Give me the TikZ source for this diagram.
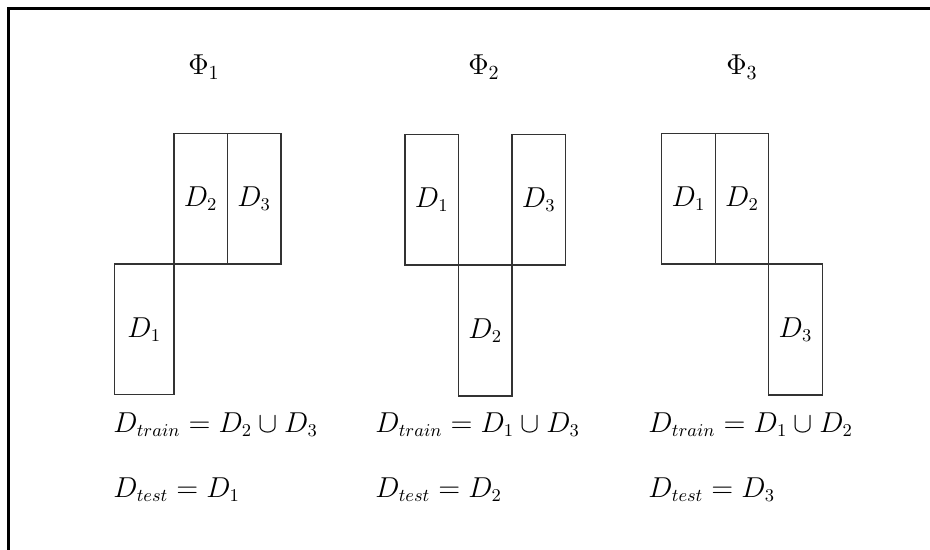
\documentclass[tikz,border=0pt]{standalone}
\usetikzlibrary{positioning}
\begin{document}
\begin{tikzpicture}[x=0.5pt,y=-0.5pt]
\tikzstyle{fold}=[draw=black!80, line width=0.6pt, minimum width=26.75pt, minimum height=65.4pt, inner sep=0pt, outer sep=0pt, font=\fontsize{13.4}{16}\selectfont]
\tikzstyle{eqn}=[anchor=base west, inner sep=0pt, font=\fontsize{13.4}{16}\selectfont]
\tikzstyle{phase}=[anchor=base, inner sep=0pt, font=\fontsize{14.5}{17}\selectfont]

\useasboundingbox (0,0) rectangle (930,550);
\draw[line width=1.3pt] (930,8.5) -- (8.5,8.5) -- (8.5,550);

% Fold 1
\node[phase] (phi1) at (204,75) {$\Phi_1$};
\node[fold, anchor=north west, minimum width=29.6pt] (a1) at (114.7,264) {$D_1$};
\node[fold, anchor=south west] (a2) at (a1.north east) {$D_2$};
\node[fold, right=0pt of a2] (a3) {$D_3$};
\node[eqn] (tr1) at (113,432) {$D_{train} = D_2 \cup D_3$};
\node[eqn] (te1) at (113,497) {$D_{test} = D_1$};

% Fold 2
\node[phase] (phi2) at (484,75) {$\Phi_2$};
\node[fold, anchor=north west] (b1) at (405,134.3) {$D_1$};
\node[fold, anchor=north west] (b2) at (b1.south east) {$D_2$};
\node[fold, anchor=south west] (b3) at (b2.north east) {$D_3$};
\node[eqn] (tr2) at (375,432) {$D_{train} = D_1 \cup D_3$};
\node[eqn] (te2) at (375,497) {$D_{test} = D_2$};

% Fold 3
\node[phase] (phi3) at (742,75) {$\Phi_3$};
\node[fold, anchor=north west] (c1) at (661.7,133.3) {$D_1$};
\node[fold, right=0pt of c1] (c2) {$D_2$};
\node[fold, anchor=north west] (c3) at (c2.south east) {$D_3$};
\node[eqn] (tr3) at (648,432) {$D_{train} = D_1 \cup D_2$};
\node[eqn] (te3) at (648,497) {$D_{test} = D_3$};
\end{tikzpicture}
\end{document}
